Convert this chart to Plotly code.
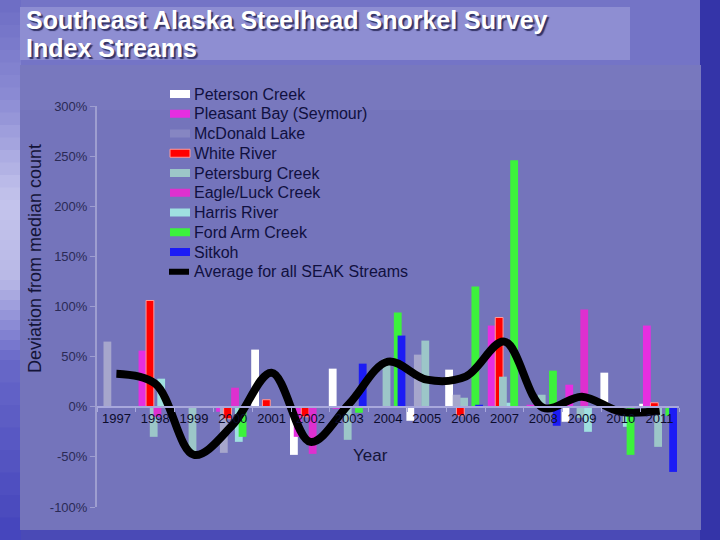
import plotly.graph_objects as go

years = [str(y) for y in range(1997, 2012)]
N = None
peterson   = [N, N, N, N, 57, -48, 38, N, -14, 37, N, N, -15, 34, 3]
pleasant   = [N, 56, N, -5, N, -30, -2, N, N, N, 81, 2, 22, N, 81]
mcdonald   = [65, N, N, -46, N, N, N, N, 52, 12, N, N, N, N, N]
white_riv  = [N, 106, N, -12, 7, -10, N, N, N, -9, 89, N, N, N, 4]
petersburg = [N, -30, -47, N, N, N, -33, 48, 66, 9, 30, 12, -11, N, -40]
eagle      = [N, -10, N, 19, N, -47, N, N, N, N, N, N, 97, N, N]
harris     = [N, 28, N, -35, N, N, N, N, N, N, 4, N, -25, -20, N]
ford_arm   = [N, N, N, -30, N, N, -6, 94, N, 120, 246, 36, N, -48, -9]
sitkoh     = [N, N, N, N, N, N, 43, 71, N, 2, N, -19, -1, N, -65]
average    = [33, 23, -48, -18, 34, -35, 3, 45, 27, 30, 65, -1, 10, -5, -4]

series = [
    ("Peterson Creek", peterson, "#ffffff"),
    ("Pleasant Bay (Seymour)", pleasant, "#e62ee0"),
    ("McDonald Lake", mcdonald, "#a6a6cc"),
    ("White River", white_riv, "#ff0000"),
    ("Petersburg Creek", petersburg, "#9cc6c8"),
    ("Eagle/Luck Creek", eagle, "#de30cf"),
    ("Harris River", harris, "#9fe0e0"),
    ("Ford Arm Creek", ford_arm, "#3cf23c"),
    ("Sitkoh", sitkoh, "#1c1cf5"),
]
avg_name = "Average for all SEAK Streams"

# plot area in pixels
L, R, T, B = 97, 679, 106, 507
W, H = R - L, B - T
def px(x):
    return (x - L) / W
def py(y):
    return (B - y) / H

fig = go.Figure()
cat_px = W / 15.0
bw = 7.8 / cat_px
for i, (name, vals, col) in enumerate(series):
    center = (-16.5 + 3.75 * i) / cat_px
    line = dict(color="#ff9a9a", width=1) if name == "White River" else dict(width=0)
    fig.add_trace(go.Bar(
        x=years, y=vals, name=name, width=bw, offset=center - bw / 2,
        marker=dict(color=col, line=line), showlegend=False,
    ))

fig.add_trace(go.Scatter(
    x=years, y=average, name=avg_name, mode="lines", showlegend=False,
    line=dict(color="#000000", width=8, shape="spline", smoothing=1.0),
))

shapes = []
def rect(x0, y0, x1, y1, color, opacity=1.0, layer="below", line=None):
    shapes.append(dict(type="rect", xref="paper", yref="paper",
                       x0=px(x0), x1=px(x1), y0=py(y1), y1=py(y0),
                       fillcolor=color, line=line or dict(width=0), layer=layer,
                       opacity=opacity))

def lerp(c1, c2, t):
    a = [int(c1[i:i + 2], 16) for i in (1, 3, 5)]
    b = [int(c2[i:i + 2], 16) for i in (1, 3, 5)]
    return "#%02x%02x%02x" % tuple(round(a[j] + (b[j] - a[j]) * t) for j in range(3))

# background imitation
rect(0, 0, 720, 540, "#4a4ab6")
rect(0, 0, 720, 65, "#7474c6")
# left strip soft gradient
stops = [(0, "#6c6cc4"), (100, "#8c8cd4"), (200, "#c4c4ec"), (280, "#b8b8e6"),
         (360, "#6868c8"), (540, "#4444bc")]
for s in range(len(stops) - 1):
    ya, ca = stops[s]
    yb, cb = stops[s + 1]
    n = 8
    for k in range(n):
        t0 = ya + (yb - ya) * k / n
        t1 = ya + (yb - ya) * (k + 1) / n
        rect(0, t0, 21, t1 + 0.5, lerp(ca, cb, (k + 0.5) / n))
rect(700, 0, 720, 540, "#3434a8")
rect(20, 65, 701, 530, "#7474bb")
rect(20, 65, 701, 110, "#7878be")
rect(20, 7, 630, 60, "#8e8ed2")

annotations = [
    dict(text="<b>Southeast Alaska Steelhead Snorkel Survey</b>",
         xref="paper", yref="paper", x=px(24), y=py(20), xanchor="left", yanchor="middle",
         showarrow=False,
         font=dict(family="Liberation Sans", size=25, color="#ffffff",
                   shadow="2px 2px 1px #333366")),
    dict(text="<b>Index Streams</b>",
         xref="paper", yref="paper", x=px(24), y=py(48), xanchor="left", yanchor="middle",
         showarrow=False,
         font=dict(family="Liberation Sans", size=25, color="#ffffff",
                   shadow="2px 2px 1px #333366")),
    dict(text="Deviation from median count", xref="paper", yref="paper",
         x=px(35), y=py(259), xanchor="center", yanchor="middle",
         textangle=-90, showarrow=False,
         font=dict(family="Liberation Sans", size=18, color="#141438")),
    dict(text="Year", xref="paper", yref="paper", x=px(370), y=py(455),
         xanchor="center", yanchor="middle",
         showarrow=False, font=dict(family="Liberation Sans", size=17, color="#141438")),
]

# legend drawn as shapes + annotations
leg_names = [s[0] for s in series] + [avg_name]
leg_cols = [s[2] for s in series]
leg_cols[2] = "#8686c2"
y0 = 94.0
step = 19.75
for k, name in enumerate(leg_names):
    yc = y0 + k * step
    if k < len(series):
        rect(170, yc - 4, 190, yc + 4, leg_cols[k], layer="above",
             line=dict(color="#ff9a9a", width=1) if name == "White River" else None)
    else:
        rect(169, yc - 3, 189, yc + 3, "#000000", layer="above")
    annotations.append(dict(text=name, xref="paper", yref="paper", x=px(192), y=py(yc),
                            xanchor="left", yanchor="middle", showarrow=False,
                            font=dict(family="Liberation Sans", size=16, color="#101040")))

fig.update_layout(
    width=720, height=540,
    margin=dict(l=L, r=720 - R, t=T, b=540 - B, autoexpand=False),
    paper_bgcolor="#4a4ab6", plot_bgcolor="rgba(0,0,0,0)",
    barmode="overlay",
    showlegend=False,
    shapes=shapes,
    annotations=annotations,
    xaxis=dict(type="category", range=[-0.5, 14.5], anchor="free", position=0.25,
               showline=True, linecolor="#a8a8dc", linewidth=2,
               ticks="outside", tickson="boundaries", ticklen=4, tickcolor="#a8a8dc",
               showgrid=False, zeroline=False,
               tickfont=dict(family="Liberation Sans", size=13, color="#0c0c2c")),
    yaxis=dict(range=[-100, 300], tickvals=[-100, -50, 0, 50, 100, 150, 200, 250, 300],
               ticktext=["-100%", "-50%", "0%", "50%", "100%", "150%", "200%", "250%", "300%"],
               showline=True, linecolor="#9e9ed0", linewidth=2,
               ticks="outside", ticklen=5, tickcolor="#9e9ed0",
               showgrid=False, zeroline=False,
               tickfont=dict(family="Liberation Sans", size=13, color="#2a2a55")),
)

fig.write_html("out.html", config={"displayModeBar": False},
               post_script="document.body.style.margin='0';document.body.style.overflow='hidden';")
